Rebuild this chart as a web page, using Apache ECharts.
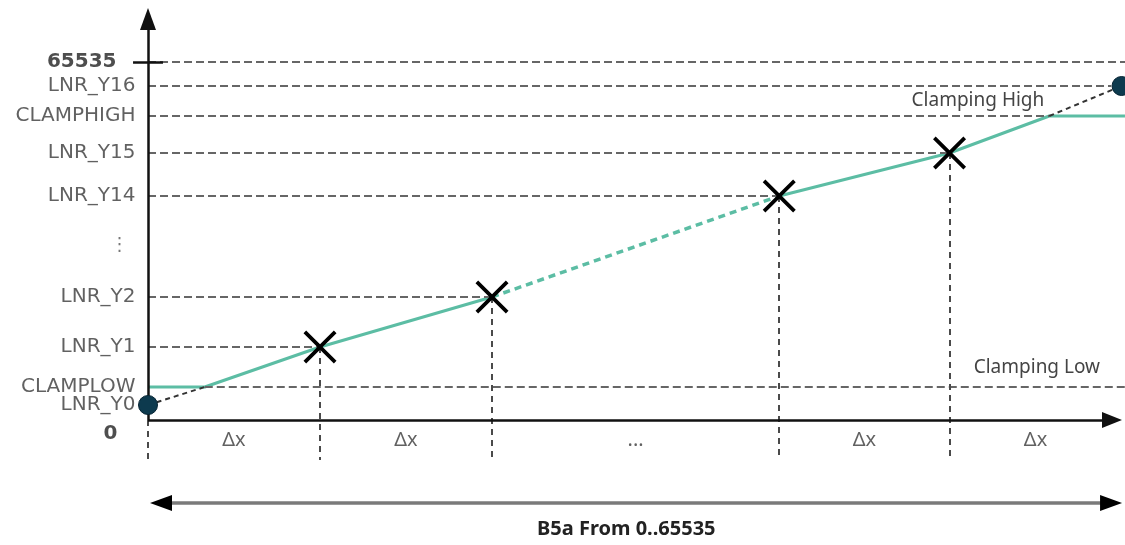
<!DOCTYPE html>
<html>
<head>
<meta charset="utf-8">
<script src="https://cdn.jsdelivr.net/npm/echarts@6/dist/echarts.min.js"></script>
<style>html,body{margin:0;padding:0;background:#fff}#c{width:1125px;height:545px}</style>
</head>
<body>
<div id="c"></div>
<script>
// ---- Schematic data (x in Δx units, y in schematic level units) ----
const segX = [0, 1, 2, 3.67, 4.66, 5.66];          // LNR_X breakpoints
const segY = [15, 73, 123, 224, 267, 334];          // LNR_Y0, Y1, Y2, Y14, Y15, Y16
const clampLow = 33;
const clampHigh = 304;
const fullScale = 358;                              // 65535
const tealSolidA = [[0, 33], [0.33, 33], [1, 73], [2, 123]];
const tealDashed = [[2, 123], [3.67, 224]];
const tealSolidB = [[3.67, 224], [4.66, 267], [5.24, 304], [5.68, 304]];
const extrapLow = [[0, 15], [0.33, 33]];
const extrapHigh = [[5.24, 304], [5.66, 334]];
const yTickNames = ['0', 'LNR_Y0', 'CLAMPLOW', 'LNR_Y1', 'LNR_Y2', '⋮', 'LNR_Y14', 'LNR_Y15', 'CLAMPHIGH', 'LNR_Y16', '65535'];
const yTickValues = [0, 15, 33, 73, 123, 175, 224, 267, 304, 334, 358];
const xTickNames = ['Δx', 'Δx', '...', 'Δx', 'Δx'];
const annotHigh = 'Clamping High';
const annotLow = 'Clamping Low';
const xTitle = 'B5a From 0..65535';

// ---- layout constants ----
const X_MIN = -0.8605, X_MAX = 5.6802, Y_MIN = -125, Y_MAX = 420;
const TEAL = '#5cbda4';
const GUIDE = { color: '#666', width: 2, type: [8, 4] };
const VGUIDE = { color: '#4a4a4a', width: 2, type: [6, 5] };
const DARKDASH = { color: '#333', width: 2, type: [5, 4] };
const AXIS = { color: '#111', width: 2.5, type: 'solid' };

const markData = [];
// horizontal guides
const hGuides = [
  { y: fullScale, from: 0, to: X_MAX },
  { y: segY[5], from: 0, to: 5.6 },
  { y: clampHigh, from: 0, to: 5.24, text: annotHigh, pad: [0, 0, 1, 0] },
  { y: segY[4], from: 0, to: segX[4] },
  { y: segY[3], from: 0, to: segX[3] },
  { y: segY[2], from: 0, to: segX[2] },
  { y: segY[1], from: 0, to: segX[1] },
  { y: clampLow, from: 0.33, to: X_MAX, text: annotLow, pad: [0, 20, 5, 0] }
];
hGuides.forEach(g => {
  const start = { coord: [g.from, g.y], lineStyle: GUIDE };
  if (g.text) {
    start.label = {
      show: true, position: 'insideEndTop', formatter: g.text,
      fontFamily: 'Noto Sans', fontSize: 19, color: '#444', padding: g.pad
    };
  }
  markData.push([start, { coord: [g.to, g.y] }]);
});
// vertical guides
for (let i = 0; i < 5; i++) {
  markData.push([
    { coord: [segX[i], i === 0 ? 0 : segY[i]], lineStyle: VGUIDE },
    { coord: [segX[i], -40] }
  ]);
}
// extrapolation dashes
[extrapLow, extrapHigh].forEach(seg => {
  markData.push([{ coord: seg[0], lineStyle: DARKDASH }, { coord: seg[1] }]);
});
// tick at 65535
markData.push([
  { coord: [-0.087, fullScale], lineStyle: AXIS },
  { coord: [0.087, fullScale] }
]);
// y axis with arrow
markData.push([
  { coord: [0, 0], lineStyle: AXIS },
  { coord: [0, 401], symbol: 'triangle', symbolSize: [16, 22] }
]);
// x axis with arrow
markData.push([
  { coord: [0, 0], lineStyle: AXIS },
  { coord: [5.6047, 0], symbol: 'triangle', symbolSize: [16, 20] }
]);
// range double arrow: gray shaft + black heads
markData.push([
  { coord: [0.0756, -83], lineStyle: { color: '#7a7a7a', width: 3.5, type: 'solid' } },
  { coord: [5.599, -83] }
]);
markData.push([
  { coord: [0.08, -83], lineStyle: { color: '#000', width: 1, type: 'solid' } },
  { coord: [0.0756, -83], symbol: 'triangle', symbolSize: [16, 22] }
]);
markData.push([
  { coord: [5.594, -83], lineStyle: { color: '#000', width: 1, type: 'solid' } },
  { coord: [5.599, -83], symbol: 'triangle', symbolSize: [16, 22] }
]);

const yLabelData = yTickNames.map((n, i) => {
  const item = { value: [0, yTickValues[i]], name: n };
  if (n === '65535') item.label = { fontWeight: 'bold', color: '#222', distance: 31 };
  if (n === '0') item.label = { fontWeight: 'bold', color: '#222', distance: 30, offset: [0, 14] };
  if (n === '⋮') item.label = { distance: 19, color: '#555', fontSize: 18 };
  return item;
});
const xLabelData = xTickNames.map((n, i) => ({ value: [(segX[i] + segX[i + 1]) / 2, 0], name: n }));

const crossPath = 'path://M0,0.8 L0.8,0 L5,4.2 L9.2,0 L10,0.8 L5.8,5 L10,9.2 L9.2,10 L5,5.8 L0.8,10 L0,9.2 L4.2,5 Z';

const chart = echarts.init(document.getElementById('c'));
chart.setOption({
  animation: false,
  backgroundColor: '#fff',
  title: {
    text: xTitle, left: 537, top: 519, padding: 0,
    textStyle: { fontFamily: 'Noto Sans', fontWeight: 'bold', fontSize: 20, color: '#222' }
  },
  grid: { left: 0, right: 0, top: 0, bottom: 0 },
  xAxis: { type: 'value', min: X_MIN, max: X_MAX, show: false },
  yAxis: { type: 'value', min: Y_MIN, max: Y_MAX, show: false },
  series: [
    {
      name: 'guides', type: 'scatter', data: [], silent: true, z: 1,
      markLine: { silent: true, animation: false, symbol: ['none', 'none'], label: { show: false }, data: markData }
    },
    { name: 'output', type: 'line', data: tealSolidA, showSymbol: false, lineStyle: { color: TEAL, width: 3 }, z: 3, silent: true },
    { name: 'output-interp', type: 'line', data: tealDashed, showSymbol: false, lineStyle: { color: TEAL, width: 3.5, type: [7, 5] }, z: 3, silent: true },
    { name: 'output2', type: 'line', data: tealSolidB, showSymbol: false, lineStyle: { color: TEAL, width: 3 }, z: 3, silent: true },
    {
      name: 'knots', type: 'scatter', z: 5, silent: true,
      data: segX.slice(1, 5).map((x, i) => [x, segY[i + 1]]),
      symbol: crossPath, symbolSize: 33, symbolKeepAspect: true, itemStyle: { color: '#000', opacity: 1 }
    },
    {
      name: 'ends', type: 'scatter', z: 6, silent: true, clip: false,
      data: [[segX[0], segY[0]], [segX[5], segY[5]]],
      symbol: 'circle', symbolSize: 19, itemStyle: { color: '#0d3a4e', borderColor: '#062433', borderWidth: 1, opacity: 1 }
    },
    {
      name: 'yLabels', type: 'scatter', z: 7, silent: true, data: yLabelData,
      symbolSize: 1, itemStyle: { color: 'rgba(0,0,0,0)' },
      label: {
        show: true, position: 'left', distance: 12, formatter: p => p.name,
        fontFamily: 'DejaVu Sans', fontSize: 20, color: '#3a3a3a'
      }
    },
    {
      name: 'xLabels', type: 'scatter', z: 7, silent: true, data: xLabelData,
      symbolSize: 1, itemStyle: { color: 'rgba(0,0,0,0)' },
      label: {
        show: true, position: 'bottom', distance: 10, formatter: p => p.name,
        fontFamily: 'Noto Sans', fontSize: 20, color: '#3a3a3a'
      }
    }
  ]
});
</script>
</body>
</html>
